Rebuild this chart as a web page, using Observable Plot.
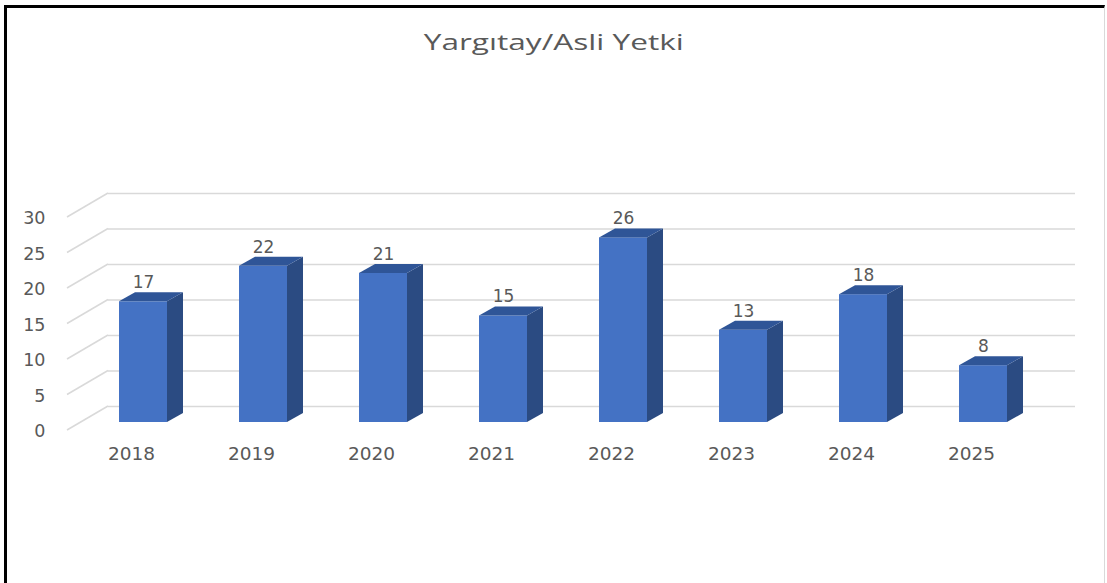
<!DOCTYPE html>
<html>
<head>
<meta charset="utf-8">
<script src="https://cdn.jsdelivr.net/npm/d3@7"></script>
<script src="https://cdn.jsdelivr.net/npm/@observablehq/plot@0.6"></script>
<style>
  html, body { margin: 0; padding: 0; background: #fff; }
  #wrap { position: relative; width: 1107px; height: 583px; overflow: hidden; }
  #border { position: absolute; left: 4px; top: 5px; width: 1097px; height: 600px;
            border-top: 3px solid #000; border-left: 3px solid #000; border-right: 1px solid #d9d9d9; }
  #title { position: absolute; left: 0; width: 1107px; top: 27px; text-align: center;
           font-family: "Open Sans", sans-serif; font-size: 21.5px; color: #595959; line-height: 30px;
           transform: scaleX(1.47); transform-origin: 553px 0; }
  #chart { position: absolute; left: 0; top: 0; }
</style>
</head>
<body>
<div id="wrap">
  <div id="border"></div>
  <div id="chart"></div>
  <div id="title">Yargıtay/Asli Yetki</div>
</div>
<script>
const years = ["2018", "2019", "2020", "2021", "2022", "2023", "2024", "2025"];
const counts = [17, 22, 21, 15, 26, 13, 18, 8];
const yTicks = [0, 5, 10, 15, 20, 25, 30];

const data = years.map((year, i) => ({year, count: counts[i]}));

const frontColor = "#4472C4";
const sideColor = "#2B4B82";
const topColor = "#2F5597";
const gridColor = "#d9d9d9";
const textColor = "#595959";
const depthX = 16, depthY = -9;   // bar depth offset (px)
const wallX = 27, wallY = -16;    // back wall offset from bar front plane
const floorX = -14, floorY = 8;   // front edge offset from bar front plane

// side wall diagonals
function sideWall(index, scales, values, dimensions) {
  const g = d3.create("svg:g").attr("stroke", gridColor).attr("stroke-width", 1.5).attr("fill", "none");
  const x0 = dimensions.marginLeft;
  for (const v of yTicks) {
    const yv = scales.y(v);
    g.append("line")
      .attr("x1", x0 + floorX).attr("y1", yv + floorY)
      .attr("x2", x0 + wallX).attr("y2", yv + wallY);
  }
  return g.node();
}

// side and top faces of the 3D columns
function barFaces(index, scales) {
  const g = d3.create("svg:g");
  const x = scales.x, y = scales.y, bw = x.bandwidth();
  for (const d of data) {
    const xl = x(d.year), xr = xl + bw, yb = y(0), yt = y(d.count);
    g.append("path")
      .attr("d", `M${xr},${yb}L${xr + depthX},${yb + depthY}L${xr + depthX},${yt + depthY}L${xr},${yt}Z`)
      .attr("fill", sideColor);
    g.append("path")
      .attr("d", `M${xl},${yt}L${xl + depthX},${yt + depthY}L${xr + depthX},${yt + depthY}L${xr},${yt}Z`)
      .attr("fill", topColor);
  }
  return g.node();
}

const chart = Plot.plot({
  width: 1107,
  height: 583,
  marginLeft: 81,
  marginRight: 59,
  marginTop: 209,
  marginBottom: 161,
  style: {fontFamily: "DejaVu Sans, sans-serif", color: textColor, background: "transparent", overflow: "visible"},
  x: {domain: years, range: [80.7, 1045.3], paddingInner: 0.6, paddingOuter: 0.3},
  y: {domain: [0, 30]},
  marks: [
    Plot.ruleY(yTicks, {dx: wallX, dy: wallY, stroke: gridColor, strokeWidth: 1.5}),
    sideWall,
    Plot.barY(data, {x: "year", y: "count", fill: frontColor}),
    barFaces,
    Plot.text(data, {x: "year", y: "count", text: d => String(d.count), dy: -19, lineAnchor: "middle",
                     fill: textColor, fontSize: 17}),
    Plot.axisY(yTicks, {tickSize: 0, tickPadding: 36, dy: 9, fontSize: 17.5, fill: textColor, label: null}),
    Plot.axisX({tickSize: 0, tickPadding: 24, dx: -12, fontSize: 18.5, fill: textColor, label: null})
  ]
});
document.getElementById("chart").appendChild(chart);
</script>
</body>
</html>
